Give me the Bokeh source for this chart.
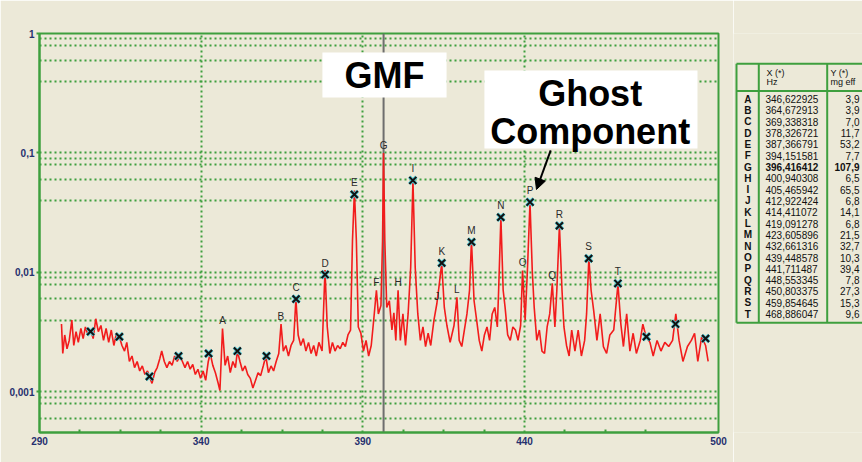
from bokeh.plotting import figure
from bokeh.models import (FixedTicker, CustomJSTickFormatter, Span, BoxAnnotation,
                          Label, Arrow, NormalHead, Range1d)
from bokeh.layouts import row
from bokeh.core.properties import value
from bokeh.embed import file_html
from bokeh.resources import INLINE

BG = "#ECE9D8"
GREEN = "#3E9F3E"
NAVY = "#26306E"
FONT = "Liberation Sans"

# ---- spectrum (Hz, g eff) ----
freq = [
    296.8, 297.2, 297.8, 298.5, 299.2, 300.0, 300.6, 301.3, 302.0, 302.8,
    303.5, 304.2, 305.0, 305.8, 306.6, 307.4, 308.2, 309.0, 309.8, 310.6,
    311.4, 312.2, 313.0, 313.8, 314.7, 315.5, 316.3, 317.0, 317.8, 318.6,
    319.4, 320.2, 321.0, 321.8, 322.6, 323.4, 324.2, 324.8, 325.6, 326.4,
    327.2, 327.8, 328.6, 329.4, 330.2, 331.0, 331.8, 332.6, 333.4, 334.2,
    335.0, 335.8, 336.6, 337.4, 338.2, 339.0, 339.8, 340.6, 341.4, 342.2,
    342.8, 343.6, 344.4, 345.2, 345.8, 346.6, 347.4, 348.2, 349.0, 349.8,
    350.6, 351.2, 352.0, 352.8, 353.6, 354.4, 355.2, 356.0, 356.8, 357.6,
    358.4, 359.2, 360.0, 360.8, 361.6, 362.4, 363.2, 364.0, 364.7, 365.4,
    366.2, 367.0, 367.8, 368.6, 369.3, 370.0, 370.8, 371.6, 372.4, 373.2,
    374.0, 374.8, 375.6, 376.4, 377.4, 378.3, 379.0, 379.8, 380.6, 381.4,
    382.2, 383.0, 383.8, 384.6, 385.4, 386.2, 386.8, 387.4, 388.0, 388.6,
    389.4, 390.2, 391.0, 391.8, 392.6, 393.4, 394.2, 394.8, 395.6, 396.1,
    396.4, 396.8, 397.4, 398.2, 399.0, 399.6, 400.2, 400.9, 401.6, 402.4,
    403.2, 404.0, 404.8, 405.5, 406.2, 407.0, 407.8, 408.6, 409.4, 410.2,
    411.0, 412.0, 412.9, 413.6, 414.4, 415.2, 416.0, 417.0, 418.2, 419.1,
    419.8, 420.6, 421.4, 422.2, 423.0, 423.6, 424.4, 425.2, 426.0, 426.8,
    427.6, 428.4, 429.2, 430.0, 430.8, 431.6, 432.0, 432.7, 433.4, 434.0,
    434.8, 435.6, 436.4, 437.2, 438.0, 438.8, 439.4, 440.2, 440.9, 441.7,
    442.4, 443.0, 443.8, 444.6, 445.4, 446.2, 447.0, 447.8, 448.6, 449.4,
    450.0, 450.8, 451.6, 452.2, 453.0, 453.8, 454.6, 455.6, 456.6, 457.6,
    458.6, 459.2, 459.9, 460.6, 461.4, 462.4, 463.4, 464.4, 465.4, 466.4,
    467.6, 468.9, 469.8, 470.6, 471.6, 472.6, 473.6, 474.6, 475.8, 476.6,
    477.6, 478.8, 479.8, 481.0, 482.2, 483.4, 484.6, 485.8, 486.8, 487.8,
    489.0, 490.4, 491.6, 492.6, 493.6, 494.8, 496.0, 496.8,
]
amp = [
    0.0037, 0.0021, 0.0030, 0.0023, 0.0027, 0.0040, 0.00245, 0.0032, 0.0026, 0.0034,
    0.0028, 0.0035, 0.0030, 0.0033, 0.0028, 0.0041, 0.0032, 0.0036, 0.0027, 0.0034,
    0.0026, 0.0033, 0.00245, 0.0031, 0.0029, 0.00245, 0.0022, 0.0026, 0.0018, 0.0020,
    0.0016, 0.0018, 0.0015, 0.00165, 0.0014, 0.0015, 0.0013, 0.00118, 0.00145, 0.0016,
    0.0019, 0.0022, 0.0018, 0.0016, 0.0018, 0.00167, 0.0020, 0.0018, 0.0020, 0.0018,
    0.0016, 0.0018, 0.00155, 0.0017, 0.0014, 0.00155, 0.0013, 0.0015, 0.00125, 0.0018,
    0.0021, 0.00167, 0.00145, 0.0012, 0.00103, 0.0034, 0.00167, 0.0020, 0.00145, 0.0018,
    0.0016, 0.0022, 0.0018, 0.0015, 0.00165, 0.0014, 0.0013, 0.00108, 0.00125, 0.00145,
    0.00137, 0.00165, 0.0020, 0.00145, 0.00165, 0.0015, 0.0018, 0.0021, 0.0037, 0.0022,
    0.00245, 0.0020, 0.00245, 0.0027, 0.0060, 0.0030, 0.00245, 0.0028, 0.0022, 0.0026,
    0.0021, 0.00245, 0.0020, 0.0026, 0.0022, 0.0105, 0.0035, 0.0021, 0.0026, 0.0022,
    0.00245, 0.0023, 0.0026, 0.0024, 0.0030, 0.0033, 0.0185, 0.0485, 0.0185, 0.0035,
    0.0031, 0.0022, 0.0027, 0.0020, 0.00245, 0.0041, 0.0071, 0.0045, 0.0053, 0.0185,
    0.100, 0.0185, 0.0051, 0.0058, 0.0033, 0.0046, 0.0027, 0.0071, 0.0027, 0.0045,
    0.00245, 0.0045, 0.0110, 0.0589, 0.0110, 0.0045, 0.0027, 0.0035, 0.0024, 0.0031,
    0.00245, 0.0040, 0.0055, 0.0078, 0.0119, 0.0051, 0.0036, 0.0026, 0.0036, 0.0062,
    0.0027, 0.0024, 0.0033, 0.0045, 0.0071, 0.0185, 0.0058, 0.0040, 0.0027, 0.0022,
    0.0030, 0.0035, 0.0027, 0.0045, 0.0051, 0.0035, 0.0071, 0.0288, 0.0071, 0.0051,
    0.0030, 0.0027, 0.0035, 0.0033, 0.0027, 0.0036, 0.0104, 0.0040, 0.0104, 0.0385,
    0.0104, 0.0051, 0.0027, 0.0033, 0.0022, 0.0021, 0.0035, 0.0045, 0.0081, 0.0035,
    0.0071, 0.0247, 0.0071, 0.0035, 0.00245, 0.0020, 0.0033, 0.0022, 0.0033, 0.0020,
    0.0027, 0.0045, 0.0131, 0.0071, 0.0048, 0.0027, 0.0045, 0.0024, 0.0021, 0.0030,
    0.0033, 0.0080, 0.0037, 0.0024, 0.0045, 0.0022, 0.0031, 0.0021, 0.0027, 0.0037,
    0.0029, 0.0026, 0.0020, 0.0027, 0.0022, 0.0026, 0.0024, 0.0027, 0.0045, 0.0027,
    0.0018, 0.0024, 0.0027, 0.0031, 0.0018, 0.0029, 0.00245, 0.0018,
]

# ---- peak cursors A..T ----
peak_letters = ["A", "B", "C", "D", "E", "F", "G", "H", "I", "J",
                "K", "L", "M", "N", "O", "P", "Q", "R", "S", "T"]
peak_hz = [346.622925, 364.672913, 369.338318, 378.326721, 387.366791,
           394.151581, 396.416412, 400.940308, 405.465942, 412.922424,
           414.411072, 419.091278, 423.605896, 432.661316, 439.448578,
           441.711487, 448.553345, 450.803375, 459.854645, 468.886047]
peak_mg_text = ["3,9", "3,9", "7,0", "11,7", "53,2", "7,7", "107,9", "6,5", "65,5", "6,8",
                "14,1", "6,8", "21,5", "32,7", "10,3", "39,4", "7,8", "27,3", "15,3", "9,6"]
peak_amp_plot = [0.0034, 0.0037, 0.0060, 0.0096, 0.045, 0.0071, 0.100, 0.0071, 0.059, 0.0055,
                 0.0120, 0.0062, 0.0180, 0.0290, 0.0104, 0.0388, 0.0081, 0.0246, 0.0131, 0.0081]
peak_has_x = [0, 0, 1, 1, 1, 0, 0, 0, 1, 0, 1, 0, 1, 1, 0, 1, 0, 1, 1, 1]
bold_row = "G"

# ---- unlabeled harmonic cursors ----
cursor_hz = [305.8, 314.7, 324.0, 333.0, 342.3, 351.2, 360.2, 477.7, 486.7, 496.0]
cursor_amp = [0.0032, 0.0029, 0.00135, 0.0020, 0.0021, 0.0022, 0.0020, 0.0029, 0.0037, 0.0028]

x_ticks = [290, 340, 390, 440, 500]
x_minor = [302.5, 315, 327.5, 352.5, 365, 377.5, 402.5, 415, 427.5, 452.5, 465, 477.5]
x_grid = [340, 390, 440]
y_ticks = [0.001, 0.01, 0.1, 1]
y_grid = [0.9, 0.8, 0.6, 0.4,
          0.1, 0.09, 0.08, 0.06, 0.04,
          0.01, 0.009, 0.008, 0.006, 0.004,
          0.001, 0.0009, 0.0008, 0.0006]

# ================= main plot =================
p = figure(width=733, height=462, x_range=Range1d(290, 500), y_range=Range1d(0.000458, 1),
           y_axis_type="log", output_backend="svg", toolbar_location=None,
           min_border_left=39, min_border_right=15, min_border_top=33, min_border_bottom=30,
           background_fill_color=BG, border_fill_color=BG)
p.outline_line_color = GREEN
p.outline_line_width = 2

p.xaxis.ticker = FixedTicker(ticks=x_ticks, minor_ticks=x_minor)
p.yaxis.ticker = FixedTicker(ticks=y_ticks, minor_ticks=[])
p.yaxis.formatter = CustomJSTickFormatter(code="return String(tick).replace('.', ',');")
for ax in (p.xaxis[0], p.yaxis[0]):
    ax.axis_line_color = GREEN
    ax.axis_line_width = 2
    ax.major_label_text_font = FONT
    ax.major_label_text_font_size = "10px"
    ax.major_label_text_font_style = "bold"
    ax.major_label_text_color = NAVY
    ax.major_tick_line_color = GREEN
    ax.major_tick_line_width = 2
    ax.minor_tick_line_color = GREEN
    ax.minor_tick_line_width = 2
p.xaxis.major_tick_in = 0
p.xaxis.major_tick_out = 0
p.xaxis.minor_tick_in = 3
p.xaxis.minor_tick_out = 0
p.xaxis.major_label_standoff = 4
p.yaxis.major_tick_in = 0
p.yaxis.major_tick_out = 3
p.yaxis.major_label_standoff = 2

p.xgrid.ticker = FixedTicker(ticks=x_grid)
p.ygrid.ticker = FixedTicker(ticks=y_grid)
for g in (p.xgrid[0], p.ygrid[0]):
    g.grid_line_color = GREEN
    g.grid_line_width = 2
    g.grid_line_dash = "2 3"

p.add_layout(Span(location=peak_hz[peak_letters.index("G")], dimension="height",
                  line_color="#6E6E6E", line_width=2, level="underlay"))

p.line(freq, amp, line_color="#F21C1C", line_width=1.6)

mx = [h for h, m in zip(peak_hz, peak_has_x) if m] + cursor_hz
my = [a for a, m in zip(peak_amp_plot, peak_has_x) if m] + cursor_amp
p.scatter(mx, my, marker="x", size=10, line_color="#4FC9D6", line_width=3.5)
p.scatter(mx, my, marker="x", size=10, line_color="#111111", line_width=2)

offs = [-6 if m else -2 for m in peak_has_x]
p.text(x=peak_hz, y=peak_amp_plot, text=peak_letters, y_offset=offs,
       text_align="center", text_baseline="bottom", text_font=value(FONT),
       text_font_size="10px", text_color="#2A2A2A")

p.add_layout(BoxAnnotation(left=377.5, right=415.9, bottom=0.291, top=0.693,
                           fill_color="white", fill_alpha=1.0, line_color=None))
p.add_layout(BoxAnnotation(left=427.6, right=493.5, bottom=0.109, top=0.49,
                           fill_color="white", fill_alpha=1.0, line_color=None))
big = dict(text_align="center", text_baseline="middle", text_font=FONT,
           text_font_size="36px", text_font_style="bold", text_color="black")
p.add_layout(Label(x=396.7, y=0.446, text="GMF", **big))
p.add_layout(Label(x=460.3, y=0.315, text="Ghost", **big))
p.add_layout(Label(x=460.3, y=0.151, text="Component", **big))
p.add_layout(Arrow(end=NormalHead(size=11, fill_color="black", line_color="black"),
                   x_start=448.1, y_start=0.105, x_end=443.7, y_end=0.0495,
                   line_width=2, line_color="black"))

p.add_layout(Label(x=278.6, y=1.62, text="g eff", text_align="left", text_baseline="middle",
                   text_font=FONT, text_font_size="10px", text_font_style="bold",
                   text_color=NAVY))
p.add_layout(Label(x=498.2, y=0.000289, text="Hz", text_align="center", text_baseline="middle",
                   text_font=FONT, text_font_size="9px", text_font_style="bold",
                   text_color=NAVY))

# ================= table =================
t = figure(width=129, height=462, x_range=Range1d(0, 129), y_range=Range1d(462, 0),
           output_backend="svg", toolbar_location=None, min_border=0,
           x_axis_location=None, y_axis_location=None,
           background_fill_color=BG, border_fill_color=BG)
t.grid.visible = False
t.outline_line_color = None

t.segment(x0=[3, 3, 3, 3, 25.3, 93.7], y0=[35, 66.7, 335, 35, 35, 35],
          x1=[129, 129, 129, 3, 25.3, 93.7], y1=[35, 66.7, 335, 335, 335, 335],
          line_color=GREEN, line_width=2)

row_y = [76 + 13.1 * i for i in range(len(peak_letters))]
x_text = [f"{v:.6f}".replace(".", ",") for v in peak_hz]
norm = [i for i, l in enumerate(peak_letters) if l != bold_row]
bold = [i for i, l in enumerate(peak_letters) if l == bold_row]

t.text(x=[14.3] * len(row_y), y=row_y, text=peak_letters, text_align="center",
       text_baseline="middle", text_font=value(FONT), text_font_size="10px",
       text_font_style="bold", text_color="#111111")
for idx, style in ((norm, "normal"), (bold, "bold")):
    t.text(x=[32] * len(idx), y=[row_y[i] for i in idx], text=[x_text[i] for i in idx],
           text_align="left", text_baseline="middle", text_font=value(FONT),
           text_font_size="10px", text_font_style=style, text_color="#111111")
    t.text(x=[126] * len(idx), y=[row_y[i] for i in idx], text=[peak_mg_text[i] for i in idx],
           text_align="right", text_baseline="middle", text_font=value(FONT),
           text_font_size="10px", text_font_style=style, text_color="#111111")

t.text(x=[33, 33, 97, 97], y=[45.5, 56.5, 45.5, 56.5], text=["X (*)", "Hz", "Y (*)", "mg eff"],
       text_align="left", text_baseline="middle", text_font=value(FONT),
       text_font_size="9px", text_color="#111111")

layout = row(p, t)
open("out.html", "w").write(file_html(layout, INLINE))
